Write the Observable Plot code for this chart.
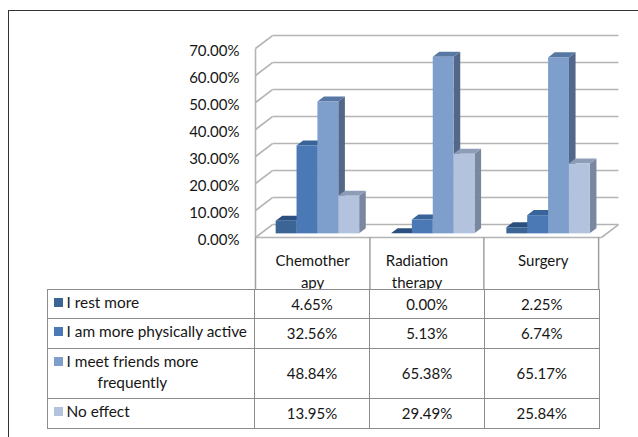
<!DOCTYPE html>
<html><head><meta charset="utf-8">
<script src="https://cdn.jsdelivr.net/npm/d3@7"></script>
<script src="https://cdn.jsdelivr.net/npm/@observablehq/plot@0.6"></script>
<style>
html,body{margin:0;padding:0;background:#fff}
#page{position:relative;width:638px;height:437px;overflow:hidden;font-family:Lato,sans-serif;color:#161616;background:#fff}
#frame{position:absolute;left:7.5px;top:9.5px;right:-5px;bottom:-5px;border:1.6px solid #333;pointer-events:none}
#chart{position:absolute;left:0;top:0}
#chart svg{display:block}
table{position:absolute;left:47px;top:288.5px;border-collapse:collapse;table-layout:fixed;font-size:15px;background:#fff}
td{border:1.5px solid #8c8c8c;padding:0;text-align:center;background:#fff}
td.k{text-align:left;position:relative;vertical-align:top;line-height:21px;padding:2px 0 0 18.5px;font-size:15.4px;white-space:nowrap}
td.k i{position:absolute;left:5.5px;top:8px;width:9.5px;height:9.5px}
td.k span{display:block;padding-left:31px}
</style></head>
<body><div id="page"><div id="chart"></div><div id="tbl"></div><div id="frame"></div></div>
<script>
const categories = ["Chemother\napy", "Radiation\ntherapy", "Surgery"];
const seriesNames = ["I rest more", "I am more physically active", "I meet friends more\nfrequently", "No effect"];
const rest = [4.65, 0.00, 2.25];
const active = [32.56, 5.13, 6.74];
const friends = [48.84, 65.38, 65.17];
const noEffect = [13.95, 29.49, 25.84];
const yTicks = [0, 10, 20, 30, 40, 50, 60, 70];
const seriesValues = [rest, active, friends, noEffect];
const frontColors = ["#3A6595", "#4A79B5", "#7E9ECB", "#B3C3DE"];
const topColors = ["#2B5080", "#38649A", "#5878A4", "#8D9DB8"];
const sideColors = ["#28486F", "#34587F", "#52678A", "#7A889F"];

// 3D projection in data units
const wallX = 0.147, wallY = 4.81;
const z0 = 0.28, z1 = 0.67, gap = 0.138, barW = 0.181;
const labelX = [0.495, 1.4, 2.495];
const px = (x, z) => x + z * wallX;
const py = (v, z) => v + z * wallY;

const bars = [];
categories.forEach((c, g) => seriesValues.forEach((vals, s) => {
  bars.push({id: g + "-" + s, s, v: vals[g], xl: g + gap + s * barW, xr: g + gap + (s + 1) * barW});
}));
const sides = bars.flatMap(b => [z0, z1].map(z => ({...b, x: px(b.xr, z), y1: py(0, z), y2: py(b.v, z)})));
const tops = bars.flatMap(b => [z0, z1].map(z => ({...b, x1: px(b.xl, z), x2: px(b.xr, z), y: py(b.v, z)})));

const grid = "#b4b4b4";
const plot = Plot.plot({
  width: 638, height: 300,
  marginLeft: 255, marginRight: 37, marginTop: 48, marginBottom: 63,
  x: {domain: [0, 3]},
  y: {domain: [0, 70]},
  color: {type: "identity"},
  style: {background: "transparent", fontFamily: "Lato,sans-serif", fontSize: "15px", color: "#161616"},
  marks: [
    Plot.link(yTicks, {x1: 0, x2: wallX, y1: d => d, y2: d => py(d, 1), stroke: grid, strokeWidth: 1.6}),
    Plot.link(yTicks, {x1: wallX, x2: 3 + wallX, y1: d => py(d, 1), y2: d => py(d, 1), stroke: grid, strokeWidth: 1.6}),
    Plot.link([70], {x1: 0, x2: 0, y1: 0, y2: d => d, stroke: grid, strokeWidth: 1.6}),
    Plot.link([0], {x1: 0, x2: 3, y1: d => d, y2: d => d, stroke: grid, strokeWidth: 1.6}),
    Plot.link([0], {x1: 3, x2: 3 + wallX, y1: d => d, y2: d => py(d, 1), stroke: grid, strokeWidth: 1.6}),
    Plot.area(sides, {x1: "x", x2: "x", y1: "y1", y2: "y2", z: "id", fill: d => sideColors[d.s]}),
    Plot.area(tops, {x1: "x1", x2: "x2", y1: "y", y2: "y", z: "id", fill: d => topColors[d.s]}),
    Plot.rect(bars, {x1: d => px(d.xl, z0), x2: d => px(d.xr, z0), y1: py(0, z0), y2: d => py(d.v, z0), fill: d => frontColors[d.s]}),
    Plot.axisY({ticks: yTicks, tickSize: 0, tickPadding: 16, dy: 2.5, label: null, tickFormat: d => d.toFixed(2) + "%", color: "#161616"}),
    Plot.axisX({ticks: [0, 0.992, 1.98, 2.975], tickSize: 52, tickFormat: () => "", label: null, stroke: "#a0a0a0", strokeWidth: 1.5}),
    Plot.text(categories, {x: (d, i) => labelX[i], frameAnchor: "bottom", lineAnchor: "top", dy: 13, lineHeight: 1.47, text: d => d, fill: "#161616", fontSize: 15})
  ]
});
document.getElementById("chart").append(plot);

// data table under the chart
const table = d3.select("#tbl").append("table");
const cg = table.append("colgroup");
[207, 115, 115, 114.5].forEach(w => cg.append("col").style("width", w + "px"));
const heights = [29, 30, 50, 30];
seriesNames.forEach((name, s) => {
  const tr = table.append("tr").style("height", heights[s] + "px");
  const k = tr.append("td").attr("class", "k");
  k.append("i").style("background", frontColors[s]);
  const lines = name.split("\n");
  k.append("div").text(lines[0]);
  if (lines[1]) k.append("span").text(lines[1]);
  seriesValues[s].forEach(v => tr.append("td").text(v.toFixed(2) + "%"));
});
</script></body></html>
